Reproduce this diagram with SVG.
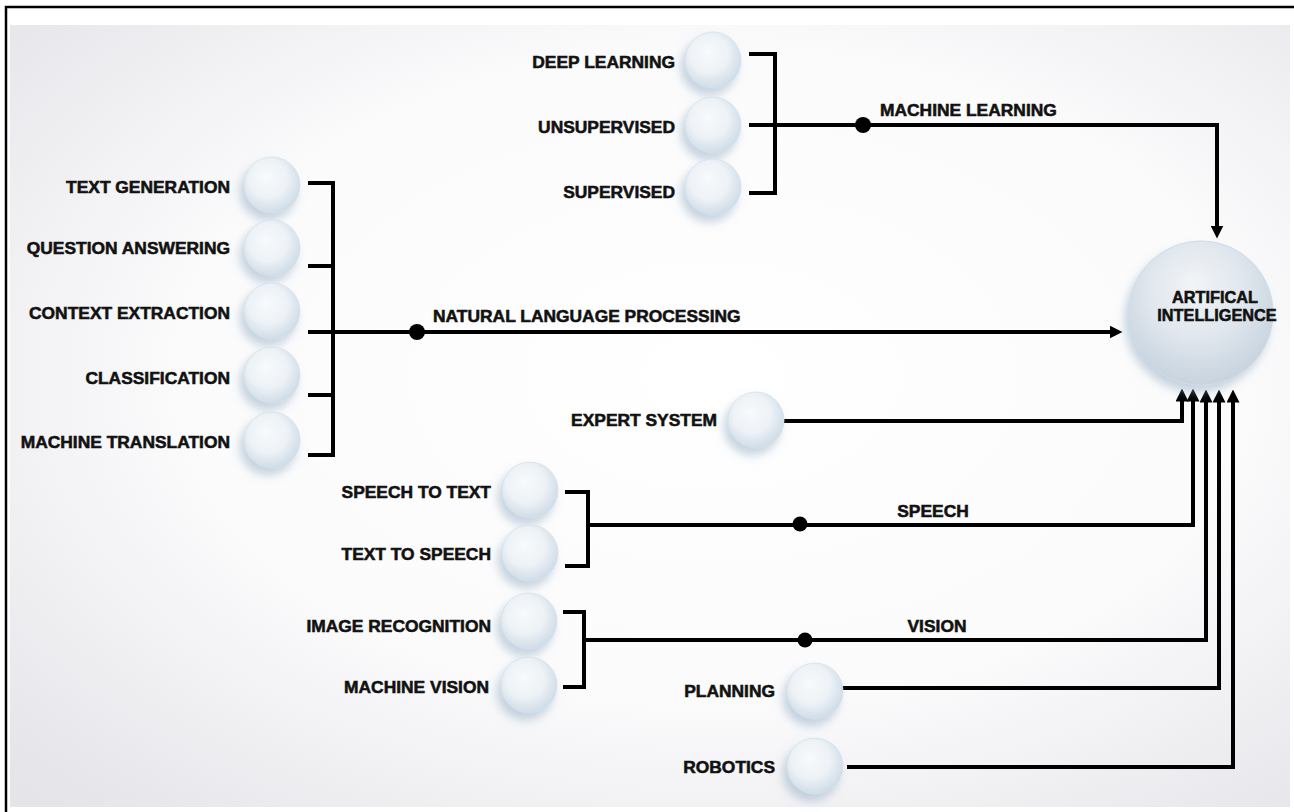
<svg xmlns="http://www.w3.org/2000/svg" width="1294" height="812" viewBox="0 0 1294 812">
  <style>
    .lbl { font-family: "Liberation Sans", Arial, sans-serif; font-weight: bold; font-size: 17.4px; fill: #111; stroke: #111; stroke-width: 0.55; text-anchor: end; }
    .cap { font-family: "Liberation Sans", Arial, sans-serif; font-weight: bold; font-size: 17.4px; fill: #111; stroke: #111; stroke-width: 0.55; }
    .ai { font-family: "Liberation Sans", Arial, sans-serif; font-weight: bold; font-size: 16.3px; fill: #111; stroke: #111; stroke-width: 0.55; text-anchor: middle; }
    .wire { fill: none; stroke: #000; stroke-width: 4; stroke-linejoin: miter; stroke-linecap: butt; }
    .bubble { fill: url(#bubbleFill); stroke: #d6e1ea; stroke-width: 0.8; filter: url(#softShadow); }
    .dot { fill: #000; }
  </style>
  <defs>
    <radialGradient id="bg" cx="55%" cy="45%" r="75%">
      <stop offset="0%" stop-color="#ffffff"/>
      <stop offset="55%" stop-color="#fbfbfc"/>
      <stop offset="100%" stop-color="#e4e4e9"/>
    </radialGradient>
    <radialGradient id="bubbleFill" cx="45%" cy="42%" r="62%" fx="40%" fy="35%">
      <stop offset="0%" stop-color="#f8fafc"/>
      <stop offset="55%" stop-color="#edf2f6"/>
      <stop offset="100%" stop-color="#cbd9e5"/>
    </radialGradient>
    <radialGradient id="aiFill" cx="48%" cy="38%" r="65%" fx="45%" fy="30%">
      <stop offset="0%" stop-color="#f2f4f7"/>
      <stop offset="50%" stop-color="#e1e7ee"/>
      <stop offset="100%" stop-color="#c4d1dd"/>
    </radialGradient>
    <filter id="softShadow" x="-50%" y="-50%" width="200%" height="200%">
      <feDropShadow dx="-4" dy="7" stdDeviation="5" flood-color="#8fa9c2" flood-opacity="0.5"/>
    </filter>
    <marker id="arrow" viewBox="0 0 12 12" refX="6" refY="6" markerWidth="13" markerHeight="13" markerUnits="userSpaceOnUse" orient="auto">
      <path d="M0,0 L12,6 L0,12 z" fill="#000"/>
    </marker>
  </defs>

  <!-- page and frame -->
  <rect x="0" y="0" width="1294" height="812" fill="#ffffff"/>
  <rect x="10" y="25" width="1280" height="782" fill="url(#bg)"/>
  <path d="M6,812 V7 H1294" fill="none" stroke="#000" stroke-width="2.5"/>

  <!-- connectors -->
  <g id="connectors">
    <!-- machine learning -->
    <path class="wire" d="M749,54 H775 V193 H749"/>
    <path class="wire" d="M749,125 H1217 V232" marker-end="url(#arrow)"/>
    <circle class="dot" cx="863" cy="125" r="8"/>
    <!-- natural language processing -->
    <path class="wire" d="M308,183 H333 V455 H308 M308,266 H333 M308,395 H333"/>
    <path class="wire" d="M308,332 H1116" marker-end="url(#arrow)"/>
    <circle class="dot" cx="417" cy="332" r="8"/>
    <!-- expert system -->
    <path class="wire" d="M784,421 H1182 V395" marker-end="url(#arrow)"/>
    <!-- speech -->
    <path class="wire" d="M565,492 H588 V566 H565"/>
    <path class="wire" d="M588,525 H1193 V395" marker-end="url(#arrow)"/>
    <circle class="dot" cx="800" cy="524" r="7.5"/>
    <!-- vision -->
    <path class="wire" d="M563,612 H584 V687 H563"/>
    <path class="wire" d="M584,640 H1206 V396" marker-end="url(#arrow)"/>
    <circle class="dot" cx="805" cy="640" r="7.5"/>
    <!-- planning -->
    <path class="wire" d="M842,688 H1219 V396" marker-end="url(#arrow)"/>
    <!-- robotics -->
    <path class="wire" d="M847,767 H1233 V396" marker-end="url(#arrow)"/>
    <!-- edge labels -->
    <text class="cap" x="880" y="116">MACHINE LEARNING</text>
    <text class="cap" x="433" y="322">NATURAL LANGUAGE PROCESSING</text>
    <text class="cap" x="933" y="517" text-anchor="middle">SPEECH</text>
    <text class="cap" x="937" y="632" text-anchor="middle">VISION</text>
  </g>

  <!-- central node -->
  <g id="artificial-intelligence">
    <circle cx="1201" cy="313" r="72" fill="url(#aiFill)" stroke="#d0dbe5" stroke-width="1" filter="url(#softShadow)"/>
    <text class="ai" x="1215" y="303">ARTIFICAL</text>
    <text class="ai" x="1217" y="321">INTELLIGENCE</text>
  </g>

  <!-- machine learning group -->
  <g id="deep-learning">
    <circle class="bubble" cx="713" cy="60" r="28"/>
    <text class="lbl" x="675" y="68">DEEP LEARNING</text>
  </g>
  <g id="unsupervised">
    <circle class="bubble" cx="713" cy="125" r="28"/>
    <text class="lbl" x="675" y="133">UNSUPERVISED</text>
  </g>
  <g id="supervised">
    <circle class="bubble" cx="713" cy="187" r="28"/>
    <text class="lbl" x="675" y="198">SUPERVISED</text>
  </g>

  <!-- natural language processing group -->
  <g id="text-generation">
    <circle class="bubble" cx="272" cy="185" r="28"/>
    <text class="lbl" x="230" y="193">TEXT GENERATION</text>
  </g>
  <g id="question-answering">
    <circle class="bubble" cx="272" cy="248" r="28"/>
    <text class="lbl" x="230" y="254">QUESTION ANSWERING</text>
  </g>
  <g id="context-extraction">
    <circle class="bubble" cx="272" cy="311" r="28"/>
    <text class="lbl" x="230" y="319">CONTEXT EXTRACTION</text>
  </g>
  <g id="classification">
    <circle class="bubble" cx="272" cy="375" r="28"/>
    <text class="lbl" x="230" y="384">CLASSIFICATION</text>
  </g>
  <g id="machine-translation">
    <circle class="bubble" cx="272" cy="440" r="28"/>
    <text class="lbl" x="230" y="448">MACHINE TRANSLATION</text>
  </g>

  <!-- expert system -->
  <g id="expert-system">
    <circle class="bubble" cx="756" cy="420" r="28"/>
    <text class="lbl" x="717" y="426">EXPERT SYSTEM</text>
  </g>

  <!-- speech group -->
  <g id="speech-to-text">
    <circle class="bubble" cx="530" cy="490" r="28"/>
    <text class="lbl" x="491" y="498">SPEECH TO TEXT</text>
  </g>
  <g id="text-to-speech">
    <circle class="bubble" cx="530" cy="553" r="28"/>
    <text class="lbl" x="491" y="560">TEXT TO SPEECH</text>
  </g>

  <!-- vision group -->
  <g id="image-recognition">
    <circle class="bubble" cx="529" cy="621" r="28"/>
    <text class="lbl" x="491" y="632">IMAGE RECOGNITION</text>
  </g>
  <g id="machine-vision">
    <circle class="bubble" cx="529" cy="685" r="28"/>
    <text class="lbl" x="489" y="693">MACHINE VISION</text>
  </g>

  <!-- planning and robotics -->
  <g id="planning">
    <circle class="bubble" cx="815" cy="691" r="28"/>
    <text class="lbl" x="775" y="697">PLANNING</text>
  </g>
  <g id="robotics">
    <circle class="bubble" cx="815" cy="766" r="28"/>
    <text class="lbl" x="775" y="773">ROBOTICS</text>
  </g>
</svg>
